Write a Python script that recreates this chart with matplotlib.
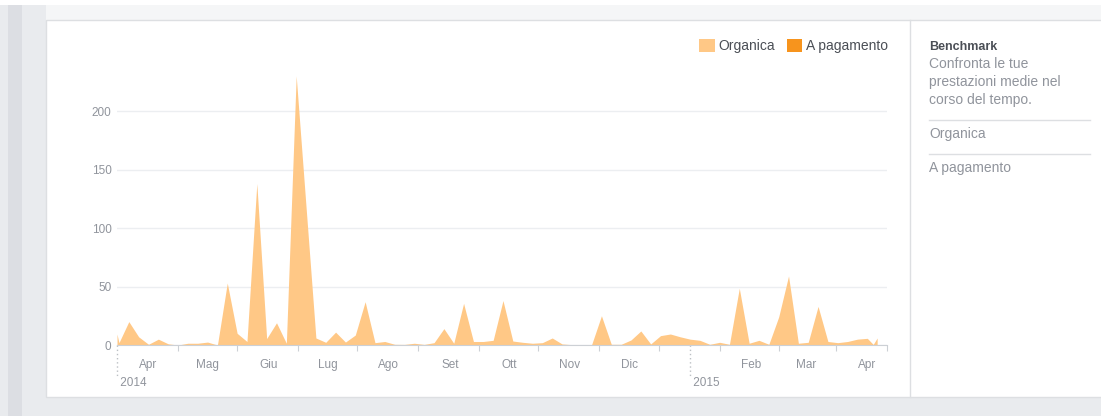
import numpy as np
import matplotlib
matplotlib.use('Agg')
import matplotlib.pyplot as plt
from matplotlib.patches import Rectangle, Patch
from matplotlib.lines import Line2D
import matplotlib.transforms as mtransforms

plt.rcParams['font.family'] = ['Liberation Sans', 'DejaVu Sans']

# days counted from 1 Apr 2014
days = [-16, -15, -10, -5, 0, 5, 10, 15, 20, 25, 30, 35, 40, 45, 50, 55, 60, 65, 70, 75,
        85, 90, 95, 100, 105, 110, 115, 120, 125, 130, 135, 140, 145, 150, 155, 160, 165, 170, 175,
        180, 185, 190, 195, 200, 205, 210, 215, 220, 225, 230, 235, 240, 245, 250, 255, 260, 265,
        270, 275, 280, 285, 290, 295, 300, 305, 310, 315, 320, 325, 330, 335, 340, 345, 350, 355,
        360, 365, 368, 370]
organica = [9.4, 2, 20, 7, 0.6, 5, 1, 0, 1.5, 1.5, 2.5, 0, 53, 10, 3, 138, 5.5, 19, 1.5, 230,
            6, 2.3, 11, 2.5, 8.5, 37, 2, 3, 0.6, 0.5, 1.5, 0.5, 2, 14, 1.5, 35.6, 3, 3, 4,
            38, 3.4, 2.3, 1.5, 2, 6, 0.9, 0.3, 0.3, 0.3, 25, 0.6, 0.6, 4.3, 12, 0.9, 8, 9.4,
            7, 5, 4, 0.6, 2.3, 0.6, 48.5, 1.5, 4, 0.6, 24, 59, 1.5, 2.3, 33, 3, 2, 3,
            5, 5.7, 0.5, 6]

month_labels = ['Apr', 'Mag', 'Giu', 'Lug', 'Ago', 'Set', 'Ott', 'Nov', 'Dic', 'Feb', 'Mar', 'Apr']
month_dates = ['2014-04-01', '2014-05-01', '2014-06-01', '2014-07-01', '2014-08-01', '2014-09-01',
               '2014-10-01', '2014-11-01', '2014-12-01', '2015-02-01', '2015-03-01', '2015-04-01']
tick_dates = ['2014-04-16', '2014-05-16', '2014-06-16', '2014-07-16', '2014-08-16', '2014-09-16',
              '2014-10-16', '2014-11-16', '2014-12-16', '2015-01-16', '2015-02-15', '2015-03-16',
              '2015-04-11']
year_dates = ['2014-03-16', '2015-01-01']
year_labels = ['2014', '2015']
yticks = [0, 50, 100, 150, 200]

x = np.datetime64('2014-04-01') + np.array(days).astype('timedelta64[D]')

W, H = 1101, 416
fig = plt.figure(figsize=(W / 100, H / 100), dpi=100)
fig.patch.set_facecolor('#e9ebee')

def px_box(x0, y0, x1, y1, **kw):
    r = Rectangle((x0 / W, 1 - y1 / H), (x1 - x0) / W, (y1 - y0) / H,
                  transform=fig.transFigure, zorder=-5, **kw)
    fig.add_artist(r)

def px_line(x0, y0, x1, y1, color='#dddfe2', lw=1):
    fig.add_artist(Line2D([x0 / W, x1 / W], [1 - y0 / H, 1 - y1 / H],
                          transform=fig.transFigure, color=color, lw=lw, zorder=-4))

# page background pieces
px_box(0, 0, W, 5, facecolor='white', lw=0)
px_box(8, 5, 22, H, facecolor='#dcdee3', lw=0)
px_box(46, 5, W, 20, facecolor='#f5f6f7', lw=0)
px_box(46, 20, W + 5, 397, facecolor='white', edgecolor='#dddfe2', lw=1)
px_line(910, 20, 910, 397)

ax = fig.add_axes([117 / W, 1 - 345 / H, 770 / W, 285 / H])
ax.set_zorder(2)
ax.set_facecolor('none')
ax.fill_between(x, organica, color='#ffc886', lw=0, zorder=2)

ax.set_xlim(np.datetime64('2014-03-16'), np.datetime64('2015-04-11'))
ax.set_ylim(0, 243.6)

for s in ['top', 'right', 'left']:
    ax.spines[s].set_visible(False)
ax.spines['bottom'].set_color('#ccd0d5')
ax.spines['bottom'].set_zorder(3)

ax.set_yticks(yticks)
ax.tick_params(axis='y', length=0, pad=4, labelsize=8.5, labelcolor='#90949c')
ax.yaxis.grid(True, color='#eceef1', lw=1)
ax.set_axisbelow(True)

ax.set_xticks([np.datetime64(d) for d in tick_dates])
ax.set_xticklabels([])
ax.tick_params(axis='x', which='major', length=4, color='#ccd0d5', direction='out')
ax.set_xticks([np.datetime64(d) for d in month_dates], minor=True)
ax.set_xticklabels(month_labels, minor=True)
ax.tick_params(axis='x', which='minor', length=0, pad=10, labelsize=8.5, labelcolor='#90949c')

trans = mtransforms.blended_transform_factory(ax.transData, ax.transAxes)
for d, lab in zip(year_dates, year_labels):
    xd = np.datetime64(d)
    ax.plot([xd, xd], [0, -33 / 285], transform=trans, clip_on=False,
            color='#bcc0c4', lw=1, linestyle=(0, (1, 2)))
    ax.text(xd, -38 / 285, ' ' + lab, transform=trans, ha='left', va='center',
            fontsize=8.5, color='#90949c')

handles = [Patch(facecolor='#ffc886', edgecolor='none', label='Organica'),
           Patch(facecolor='#f7941d', edgecolor='none', label='A pagamento')]
fig.legend(handles=handles, loc='center right', bbox_to_anchor=(888 / W, 1 - 46 / H),
           ncol=2, frameon=False, fontsize=10, labelcolor='#4b4f56',
           handlelength=1.1, handleheight=1.1, handletextpad=0.3, columnspacing=0.8,
           borderpad=0, borderaxespad=0)

# sidebar
fig.text(929 / W, 1 - 47 / H, 'Benchmark', fontsize=9, weight='bold', color='#4b4f56', va='center')
for i, line in enumerate(['Confronta le tue', 'prestazioni medie nel', 'corso del tempo.']):
    fig.text(929 / W, 1 - (64 + 18 * i) / H, line, fontsize=10, color='#90949c', va='center')
px_line(929, 120, 1090, 120)
fig.text(929 / W, 1 - 134 / H, 'Organica', fontsize=10, color='#90949c', va='center')
px_line(929, 154, 1090, 154)
fig.text(929 / W, 1 - 168 / H, 'A pagamento', fontsize=10, color='#90949c', va='center')

fig.savefig('out.png', dpi=100, facecolor=fig.get_facecolor())
